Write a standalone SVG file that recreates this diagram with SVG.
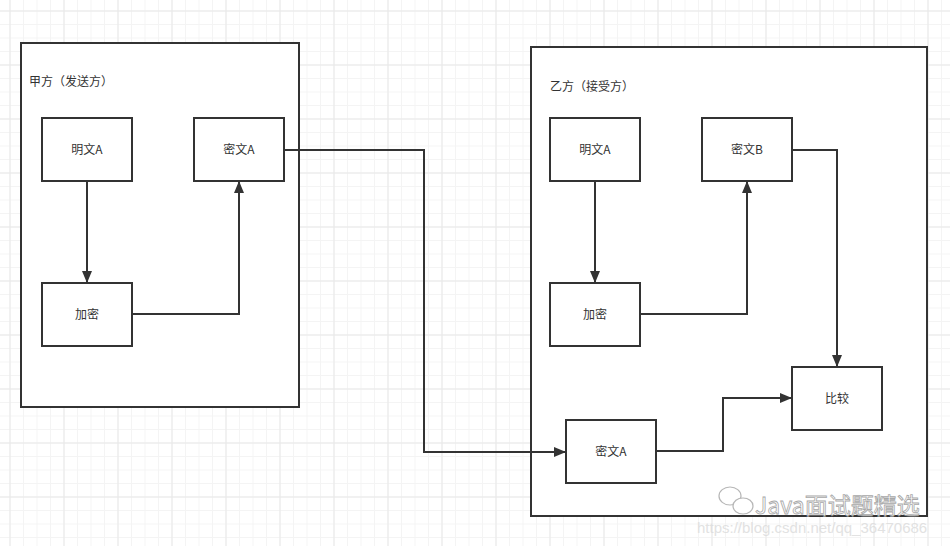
<svg xmlns="http://www.w3.org/2000/svg" width="950" height="546" viewBox="0 0 950 546">
<defs>
<pattern id="minor" x="9.5" y="10.5" width="13.5" height="13.5" patternUnits="userSpaceOnUse">
<path d="M0 0.5H13.5M0.5 0V13.5" fill="none" stroke="#f4f4f4" stroke-width="1"/>
</pattern>
<pattern id="major" x="9.5" y="10.5" width="54" height="54" patternUnits="userSpaceOnUse">
<path d="M0 0.5H54M0.5 0V54" fill="none" stroke="#e8e8e8" stroke-width="1"/>
</pattern>
<marker id="arr" viewBox="0 0 12 10" refX="12" refY="5" markerWidth="12" markerHeight="10" markerUnits="userSpaceOnUse" orient="auto">
<path d="M0 0L12 5L0 10Z" fill="#333"/>
</marker>
<style>
.box{fill:#fff;stroke:#333;stroke-width:2}
.cont{fill:#fff;stroke:#333;stroke-width:2}
.lbl{font-family:"Noto Sans CJK SC","Noto Sans",sans-serif;font-size:12px;fill:#333}
.ctr{text-anchor:middle}
.edge{fill:none;stroke:#333;stroke-width:2}
</style>
</defs>
<rect width="950" height="546" fill="#fff"/>
<rect width="950" height="546" fill="url(#minor)"/>
<rect width="950" height="546" fill="url(#major)"/>

<g id="sender">
<rect class="cont" x="21" y="43" width="278" height="364"/>
<text class="lbl" x="29" y="86">甲方（发送方）</text>
</g>
<g id="receiver">
<rect class="cont" x="531" y="47" width="396" height="469"/>
<text class="lbl" x="550" y="91">乙方（接受方）</text>
</g>

<g id="s_plain">
<rect class="box" x="42" y="118" width="90" height="63"/>
<text class="lbl ctr" x="87" y="154">明文A</text>
</g>
<g id="s_cipher">
<rect class="box" x="194" y="118" width="90" height="63"/>
<text class="lbl ctr" x="239" y="154">密文A</text>
</g>
<g id="s_encrypt">
<rect class="box" x="42" y="283" width="90" height="63"/>
<text class="lbl ctr" x="87" y="319">加密</text>
</g>

<g id="r_plain">
<rect class="box" x="550" y="118" width="90" height="63"/>
<text class="lbl ctr" x="595" y="154">明文A</text>
</g>
<g id="r_cipherB">
<rect class="box" x="702" y="118" width="90" height="63"/>
<text class="lbl ctr" x="747" y="154">密文B</text>
</g>
<g id="r_encrypt">
<rect class="box" x="550" y="283" width="90" height="63"/>
<text class="lbl ctr" x="595" y="319">加密</text>
</g>
<g id="r_compare">
<rect class="box" x="792" y="367" width="90" height="63"/>
<text class="lbl ctr" x="837" y="403">比较</text>
</g>
<g id="r_cipherA">
<rect class="box" x="566" y="420" width="90" height="63"/>
<text class="lbl ctr" x="611" y="456">密文A</text>
</g>

<g id="connectors">
<path class="edge" d="M87 181V283" marker-end="url(#arr)"/>
<path class="edge" d="M132 314H239V181" marker-end="url(#arr)"/>
<path class="edge" d="M284 150H424V452H566" marker-end="url(#arr)"/>
<path class="edge" d="M595 181V283" marker-end="url(#arr)"/>
<path class="edge" d="M640 314H747V181" marker-end="url(#arr)"/>
<path class="edge" d="M792 150H837V367" marker-end="url(#arr)"/>
<path class="edge" d="M656 451H723V398H792" marker-end="url(#arr)"/>
</g>

<g id="watermark" opacity="0.85">
<ellipse cx="730" cy="496" rx="11" ry="9" fill="none" stroke="#aaa" stroke-width="1.2"/>
<ellipse cx="743" cy="506" rx="10" ry="8" fill="#fff" stroke="#aaa" stroke-width="1.2"/>
<text x="755" y="514" font-family="'Noto Sans CJK SC','Noto Sans',sans-serif" font-size="23" fill="#fff" stroke="#999" stroke-width="0.8">Java面试题精选</text>
<text x="697" y="533" font-family="'Liberation Sans',sans-serif" font-size="15" fill="#ddd">https://blog.csdn.net/qq_36470686</text>
</g>
</svg>
